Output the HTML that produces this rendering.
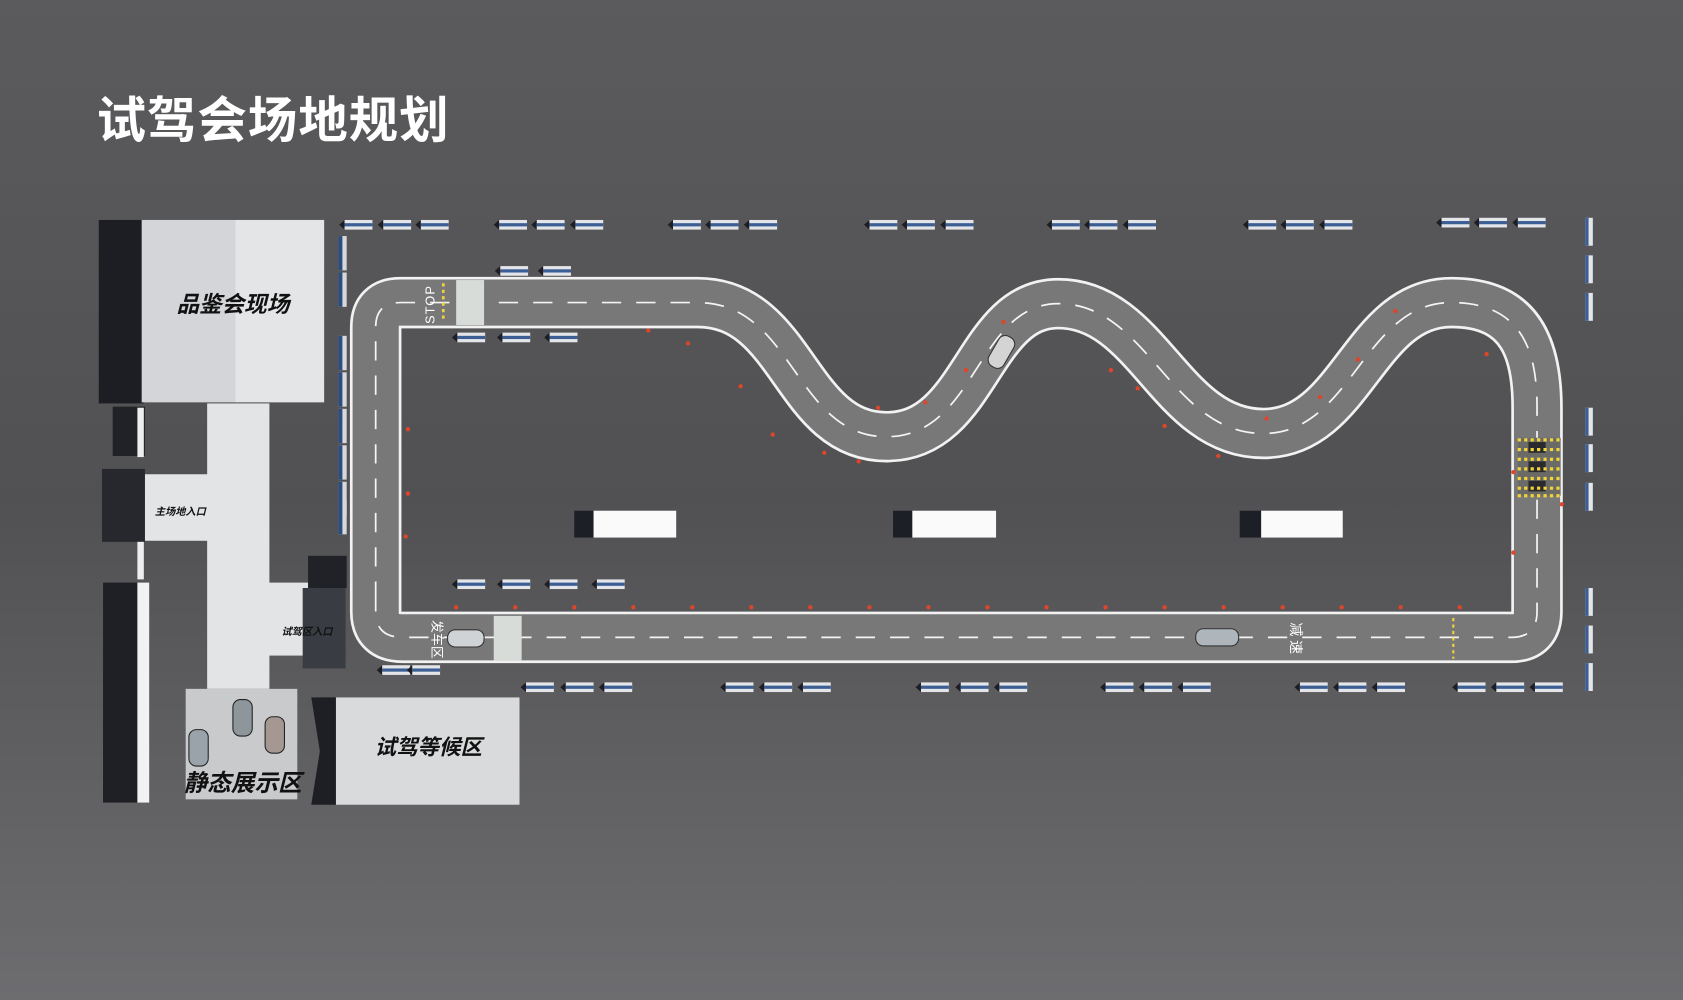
<!DOCTYPE html>
<html><head><meta charset="utf-8"><style>
html,body{margin:0;padding:0;width:1683px;height:1000px;overflow:hidden;background:#555557}
svg{display:block}
</style></head><body>
<svg width="1683" height="1000" viewBox="0 0 1568 932" preserveAspectRatio="none" xmlns="http://www.w3.org/2000/svg">
<defs>
<linearGradient id="bg" x1="0" y1="0" x2="0" y2="1">
<stop offset="0" stop-color="#5b5b5d"/><stop offset="0.5" stop-color="#515153"/><stop offset="1" stop-color="#6d6d70"/>
</linearGradient>
<g id="bar"><rect x="0" y="0" width="26" height="9" fill="#e4e5e8"/><rect x="0" y="3" width="26" height="3" fill="#3b5f95"/><polygon points="0,0 -5,4.5 0,9" fill="#1e1e22"/></g>
<g id="vbar"><rect x="0" y="0" width="7" height="26" fill="#e4e5e8"/><rect x="0" y="0" width="3" height="26" fill="#3b5f95"/></g>
<g id="lbar"><rect x="0" y="0" width="8" height="32" fill="#d6d8dc"/><rect x="0" y="0" width="4" height="32" fill="#2e4d7a"/></g>
</defs>
<rect width="1568" height="932" fill="url(#bg)"/>
<text x="90" y="128" font-family="Liberation Sans,'Noto Sans CJK SC',sans-serif" font-weight="bold" font-size="46" fill="#fff" letter-spacing="1">试驾会场地规划</text>

<!-- track -->
<path d="M350,560 L350,305 Q350,282 373,282 L650,282 C740,282 740,407 826,407 C910,407 910,283 986,283 C1070,283 1090,404 1177,404 C1260,404 1270,282 1352,282 C1420,282 1432,330 1432,380 L1432,570 Q1432,594 1408,594 L375,594 Q350,594 350,570 Z" fill="none" stroke="#f2f2f2" stroke-width="48" stroke-linejoin="round"/>
<path d="M350,560 L350,305 Q350,282 373,282 L650,282 C740,282 740,407 826,407 C910,407 910,283 986,283 C1070,283 1090,404 1177,404 C1260,404 1270,282 1352,282 C1420,282 1432,330 1432,380 L1432,570 Q1432,594 1408,594 L375,594 Q350,594 350,570 Z" fill="none" stroke="#787879" stroke-width="43" stroke-linejoin="round"/>
<path d="M350,560 L350,305 Q350,282 373,282 L650,282 C740,282 740,407 826,407 C910,407 910,283 986,283 C1070,283 1090,404 1177,404 C1260,404 1270,282 1352,282 C1420,282 1432,330 1432,380 L1432,570 Q1432,594 1408,594 L375,594 Q350,594 350,570 Z" fill="none" stroke="#f4f4f4" stroke-width="1.6" stroke-dasharray="18,14"/>
<!-- crossings -->
<rect x="425" y="261" width="26" height="42" fill="#d8dcd8"/>
<rect x="460" y="574" width="26" height="42" fill="#d8dcd8"/>
<line x1="413" y1="264" x2="413" y2="300" stroke="#f1d33a" stroke-width="2.5" stroke-dasharray="3,3"/>
<line x1="1354" y1="576" x2="1354" y2="614" stroke="#f1d33a" stroke-width="2" stroke-dasharray="3,3"/>
<rect x="1414" y="408" width="40" height="54" fill="#6a6a66"/>
<rect x="1424" y="412" width="16" height="10" fill="#2a2a2e"/><rect x="1424" y="430" width="16" height="10" fill="#2a2a2e"/><rect x="1424" y="448" width="16" height="10" fill="#2a2a2e"/>
<g stroke="#f1d33a" stroke-width="3" stroke-dasharray="3,3">
<line x1="1414" y1="410" x2="1454" y2="410"/><line x1="1414" y1="419" x2="1454" y2="419"/><line x1="1414" y1="428" x2="1454" y2="428"/><line x1="1414" y1="437" x2="1454" y2="437"/><line x1="1414" y1="446" x2="1454" y2="446"/><line x1="1414" y1="455" x2="1454" y2="455"/><line x1="1414" y1="462" x2="1454" y2="462"/>
</g>
<text x="0" y="0" transform="translate(405,302) rotate(-90)" font-family="Liberation Sans,sans-serif" font-size="12" fill="#fff" letter-spacing="1">STOP</text>
<text x="0" y="0" transform="translate(403,578) rotate(90)" font-family="Liberation Sans,'Noto Sans CJK SC',sans-serif" font-size="12" fill="#fff">发车区</text>
<text x="0" y="0" transform="translate(1203,580) rotate(90)" font-family="Liberation Sans,'Noto Sans CJK SC',sans-serif" font-size="13" fill="#fff">减 速</text>
<!-- cars on track -->
<rect x="417" y="587" width="34" height="16" rx="7" fill="#cfd3d6" stroke="#333" stroke-width="1"/>
<rect x="1114" y="586" width="40" height="16" rx="7" fill="#aeb6bc" stroke="#333" stroke-width="1"/>
<rect x="925" y="312" width="16" height="32" rx="7" transform="rotate(30 933 328)" fill="#d4d4d4" stroke="#333"/>

<!-- trucks -->
<rect x="535" y="476" width="18" height="25" fill="#1d1f26"/><rect x="553" y="476" width="77" height="25" fill="#fafafa"/>
<rect x="832" y="476" width="18" height="25" fill="#1d1f26"/><rect x="850" y="476" width="78" height="25" fill="#fafafa"/>
<rect x="1155" y="476" width="20" height="25" fill="#1d1f26"/><rect x="1175" y="476" width="76" height="25" fill="#fafafa"/>

<!-- barriers -->
<g>
<use href="#bar" x="321" y="205"/><use href="#bar" x="357" y="205"/><use href="#bar" x="392" y="205"/>
<use href="#bar" x="465" y="205"/><use href="#bar" x="500" y="205"/><use href="#bar" x="536" y="205"/>
<use href="#bar" x="627" y="205"/><use href="#bar" x="662" y="205"/><use href="#bar" x="698" y="205"/>
<use href="#bar" x="810" y="205"/><use href="#bar" x="845" y="205"/><use href="#bar" x="881" y="205"/>
<use href="#bar" x="980" y="205"/><use href="#bar" x="1015" y="205"/><use href="#bar" x="1051" y="205"/>
<use href="#bar" x="1163" y="205"/><use href="#bar" x="1198" y="205"/><use href="#bar" x="1234" y="205"/>
<use href="#bar" x="1343" y="203"/><use href="#bar" x="1378" y="203"/><use href="#bar" x="1414" y="203"/>
<use href="#bar" x="466" y="248"/><use href="#bar" x="506" y="248"/>
<use href="#bar" x="426" y="310"/><use href="#bar" x="468" y="310"/><use href="#bar" x="512" y="310"/>
<use href="#bar" x="426" y="540"/><use href="#bar" x="468" y="540"/><use href="#bar" x="512" y="540"/><use href="#bar" x="556" y="540"/>
<use href="#bar" x="356" y="620"/><use href="#bar" x="384" y="620"/>
<use href="#bar" x="490" y="636"/><use href="#bar" x="527" y="636"/><use href="#bar" x="563" y="636"/>
<use href="#bar" x="676" y="636"/><use href="#bar" x="712" y="636"/><use href="#bar" x="748" y="636"/>
<use href="#bar" x="858" y="636"/><use href="#bar" x="895" y="636"/><use href="#bar" x="931" y="636"/>
<use href="#bar" x="1030" y="636"/><use href="#bar" x="1066" y="636"/><use href="#bar" x="1102" y="636"/>
<use href="#bar" x="1211" y="636"/><use href="#bar" x="1247" y="636"/><use href="#bar" x="1283" y="636"/>
<use href="#bar" x="1358" y="636"/><use href="#bar" x="1394" y="636"/><use href="#bar" x="1430" y="636"/>
</g>
<g>
<use href="#vbar" x="1477" y="203"/><use href="#vbar" x="1477" y="238"/><use href="#vbar" x="1477" y="273"/>
<use href="#vbar" x="1477" y="380"/><use href="#vbar" x="1477" y="414"/><use href="#vbar" x="1477" y="450"/>
<use href="#vbar" x="1477" y="548"/><use href="#vbar" x="1477" y="583"/><use href="#vbar" x="1477" y="618"/>
</g>
<g>
<use href="#lbar" x="315" y="220"/><use href="#lbar" x="315" y="254"/><use href="#lbar" x="315" y="313"/><use href="#lbar" x="315" y="347"/><use href="#lbar" x="315" y="381"/><use href="#lbar" x="315" y="415"/><use href="#lbar" x="315" y="449"/><use href="#lbar" x="315" y="466"/>
</g>

<!-- pin jian building -->
<rect x="92" y="205" width="42" height="171" fill="#1c1e24"/>
<rect x="132" y="205" width="87" height="170" fill="#d4d5d8"/>
<rect x="219" y="205" width="83" height="170" fill="#e4e5e7"/>
<text x="217" y="291" text-anchor="middle" font-family="Liberation Sans,'Noto Sans CJK SC',sans-serif" font-weight="bold" font-style="italic" font-size="21" fill="#111">品鉴会现场</text>

<!-- walkways -->
<rect x="193" y="376" width="58" height="266" fill="#e3e4e6"/>
<rect x="135" y="442" width="60" height="62" fill="#e3e4e6"/>
<rect x="250" y="543" width="42" height="68" fill="#e3e4e6"/>
<rect x="105" y="379" width="30" height="46" fill="#202228"/>
<rect x="95" y="437" width="40" height="68" fill="#26282e"/>
<rect x="128" y="380" width="6" height="46" fill="#eee"/>
<rect x="128" y="505" width="6" height="35" fill="#eee"/>
<rect x="96" y="543" width="32" height="205" fill="#1e2026"/>
<rect x="128" y="543" width="11" height="205" fill="#f2f2f2"/>
<rect x="287" y="518" width="36" height="30" fill="#202228"/>
<rect x="282" y="548" width="40" height="75" fill="#3a3c44"/>
<text x="168" y="480" text-anchor="middle" font-family="Liberation Sans,'Noto Sans CJK SC',sans-serif" font-weight="bold" font-style="italic" font-size="9.5" fill="#111">主场地入口</text>
<text x="286" y="592" text-anchor="middle" font-family="Liberation Sans,'Noto Sans CJK SC',sans-serif" font-weight="bold" font-style="italic" font-size="9.5" fill="#111">试驾区入口</text>

<!-- static display -->
<rect x="173" y="642" width="104" height="103" fill="#c9cacc"/>
<rect x="217" y="652" width="18" height="34" rx="7" fill="#8d969a" stroke="#222"/>
<rect x="247" y="668" width="18" height="34" rx="7" fill="#a59893" stroke="#222"/>
<rect x="176" y="680" width="18" height="34" rx="7" fill="#9aa3aa" stroke="#222"/>
<text x="226" y="737" text-anchor="middle" font-family="Liberation Sans,'Noto Sans CJK SC',sans-serif" font-weight="bold" font-style="italic" font-size="22" fill="#111">静态展示区</text>

<!-- waiting area -->
<polygon points="290,650 313,650 313,750 290,750 298,700" fill="#1d1f25"/>
<rect x="313" y="650" width="171" height="100" fill="#d9dadc"/>
<text x="399" y="703" text-anchor="middle" font-family="Liberation Sans,'Noto Sans CJK SC',sans-serif" font-weight="bold" font-style="italic" font-size="20" fill="#111">试驾等候区</text>

<!-- cones -->
<g fill="#e0452a">
<circle cx="604" cy="308" r="2"/><circle cx="641" cy="320" r="2"/><circle cx="690" cy="360" r="2"/><circle cx="720" cy="405" r="2"/><circle cx="768" cy="422" r="2"/><circle cx="800" cy="430" r="2"/>
<circle cx="818" cy="380" r="2"/><circle cx="862" cy="375" r="2"/><circle cx="900" cy="345" r="2"/><circle cx="935" cy="300" r="2"/>
<circle cx="1035" cy="345" r="2"/><circle cx="1060" cy="362" r="2"/><circle cx="1085" cy="397" r="2"/><circle cx="1135" cy="425" r="2"/><circle cx="1180" cy="390" r="2"/>
<circle cx="1230" cy="370" r="2"/><circle cx="1265" cy="335" r="2"/><circle cx="1300" cy="290" r="2"/><circle cx="1385" cy="330" r="2"/>
<circle cx="1410" cy="440" r="2"/><circle cx="1410" cy="515" r="2"/><circle cx="1455" cy="470" r="2"/>
<circle cx="380" cy="400" r="2"/><circle cx="380" cy="460" r="2"/><circle cx="378" cy="500" r="2"/>
<circle cx="425" cy="566" r="2"/><circle cx="480" cy="566" r="2"/><circle cx="535" cy="566" r="2"/><circle cx="590" cy="566" r="2"/><circle cx="645" cy="566" r="2"/><circle cx="700" cy="566" r="2"/><circle cx="755" cy="566" r="2"/><circle cx="810" cy="566" r="2"/><circle cx="865" cy="566" r="2"/><circle cx="920" cy="566" r="2"/><circle cx="975" cy="566" r="2"/><circle cx="1030" cy="566" r="2"/><circle cx="1085" cy="566" r="2"/><circle cx="1140" cy="566" r="2"/><circle cx="1195" cy="566" r="2"/><circle cx="1250" cy="566" r="2"/><circle cx="1305" cy="566" r="2"/><circle cx="1360" cy="566" r="2"/>
</g>
</svg>
</body></html>
